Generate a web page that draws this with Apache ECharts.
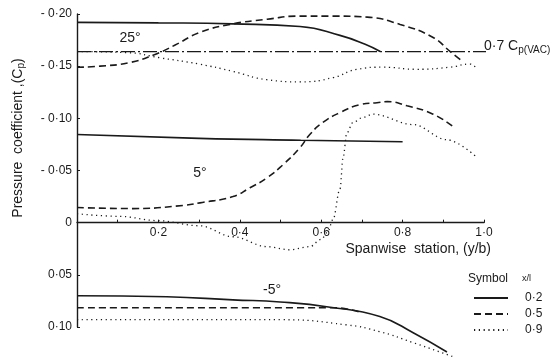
<!DOCTYPE html>
<html>
<head>
<meta charset="utf-8">
<script src="https://cdn.jsdelivr.net/npm/echarts@6/dist/echarts.min.js"></script>
<style>
  html, body {margin: 0; padding: 0; background: #fff;}
  #chart {width: 556px; height: 360px;}
</style>
</head>
<body>
<div id="chart"></div>
<script>
// spanwise station (y/b) vs pressure coefficient
const xTicks = [0.2, 0.4, 0.6, 0.8, 1.0];
const yMin = -0.20, yMax = 0.10;

// 25 deg
const a25_x02 = [[0,-0.192],[0.2,-0.1915],[0.383,-0.1905],[0.548,-0.188],[0.646,-0.1795],[0.708,-0.171],[0.745,-0.164]];
const a25_x05 = [[0,-0.149],[0.057,-0.150],[0.13,-0.1535],[0.19,-0.161],[0.24,-0.170],[0.30,-0.182],[0.376,-0.190],[0.467,-0.195],[0.548,-0.198],[0.629,-0.198],[0.713,-0.197],[0.794,-0.190],[0.875,-0.1775],[0.917,-0.164],[0.948,-0.1545]];
const a25_x09 = [[0,-0.164],[0.123,-0.163],[0.204,-0.158],[0.30,-0.152],[0.383,-0.145],[0.467,-0.137],[0.548,-0.135],[0.629,-0.139],[0.688,-0.147],[0.752,-0.149],[0.835,-0.147],[0.916,-0.149],[0.966,-0.152],[0.983,-0.147]];

// 5 deg
const a5_x02 = [[0,-0.0845],[0.3,-0.0808],[0.55,-0.079],[0.8,-0.0775]];
const a5_x05 = [[0,-0.0145],[0.138,-0.0135],[0.26,-0.0165],[0.302,-0.019],[0.383,-0.025],[0.425,-0.0335],[0.467,-0.043],[0.506,-0.0555],[0.548,-0.072],[0.572,-0.0845],[0.604,-0.096],[0.646,-0.1055],[0.695,-0.113],[0.737,-0.115],[0.762,-0.116],[0.811,-0.112],[0.875,-0.104],[0.924,-0.092]];
const a5_x09 = [[0,-0.0085],[0.106,-0.006],[0.197,-0.002],[0.302,0.003],[0.383,0.0135],[0.467,0.023],[0.523,0.026],[0.572,0.023],[0.6,0.016],[0.616,0.009],[0.629,-0.003],[0.646,-0.032],[0.654,-0.063],[0.663,-0.086],[0.678,-0.096],[0.703,-0.101],[0.727,-0.104],[0.826,-0.094],[0.909,-0.0795],[0.983,-0.0625]];

// -5 deg
const am5_x02 = [[0,0.070],[0.221,0.071],[0.383,0.074],[0.499,0.076],[0.622,0.081],[0.744,0.090],[0.826,0.1055],[0.909,0.124]];
const am5_x05 = [[0,0.0815],[0.55,0.0815],[0.63,0.0815],[0.70,0.0865]];
const am5_x09 = [[0,0.093],[0.499,0.093],[0.663,0.098],[0.744,0.1045],[0.826,0.115],[0.924,0.1285]];

// 0.7 Cp(VAC) reference level
const cpVac = [[0,-0.164],[1.047,-0.164]];

const INK = '#1a1a1a';
const FONT = 'Liberation Sans';
const GRID = {left: 77, right: 72, top: 14, bottom: 33};

const styles = {
  '0·2': {type: 'solid', width: 1.6},
  '0·5': {type: [7, 4], width: 1.6},
  '0·9': {type: [1.2, 3.6], width: 1.3}
};

function curve(name, data, monotone){
  return {
    name, type: 'line', data,
    symbol: 'none', smooth: monotone ? 0.35 : 0.5, smoothMonotone: monotone ? 'x' : null, clip: false,
    lineStyle: Object.assign({color: INK}, styles[name]),
    itemStyle: {color: INK},
    silent: true, animation: false
  };
}

function fmtY(v){
  if (Math.abs(v) < 1e-9) return '0';
  const s = Math.abs(v).toFixed(2).replace('.', '·');
  return v < 0 ? '- ' + s : s;
}

// x axis sits on Cp = 0, so shift it up from the grid bottom
const plotH = 360 - GRID.top - GRID.bottom;
const zeroOffset = -plotH * (yMax - 0) / (yMax - yMin);

const chart = echarts.init(document.getElementById('chart'), null, {renderer: 'canvas'});

chart.setOption({
  backgroundColor: '#fff',
  animation: false,
  textStyle: {fontFamily: FONT, color: INK},
  grid: Object.assign({containLabel: false}, GRID),
  xAxis: {
    type: 'value', min: 0, max: 1, interval: 0.1,
    position: 'bottom', offset: zeroOffset,
    axisLine: {onZero: false, lineStyle: {color: INK, width: 1.4}},
    axisTick: {inside: true, length: 3, lineStyle: {color: INK}},
    axisLabel: {
      margin: 4, fontSize: 12, color: INK, fontFamily: FONT,
      formatter: v => xTicks.some(t => Math.abs(t - v) < 1e-6) ? v.toFixed(1).replace('.', '·') : ''
    },
    splitLine: {show: false},
    name: 'Spanwise  station, (y/b)',
    nameLocation: 'end', nameGap: 7,
    nameTextStyle: {fontSize: 14, color: INK, align: 'right', verticalAlign: 'top', padding: [19, 0, 0, 0], fontFamily: FONT}
  },
  yAxis: {
    type: 'value', min: yMin, max: yMax, interval: 0.05, inverse: true,
    axisLine: {show: true, lineStyle: {color: INK, width: 1.4}},
    axisTick: {show: true, inside: true, length: 3, lineStyle: {color: INK}},
    axisLabel: {margin: 5, fontSize: 12, color: INK, fontFamily: FONT, formatter: fmtY},
    splitLine: {show: false}
  },
  legend: {
    data: ['0·2', '0·5', '0·9'],
    orient: 'vertical', left: 468, top: 287,
    itemWidth: 34, itemHeight: 10, itemGap: 4,
    itemStyle: {opacity: 0},
    textStyle: {fontSize: 12, color: INK, fontFamily: FONT, padding: [0, 0, 0, 12]},
    selectedMode: false
  },
  graphic: [
    {type: 'text', x: 18, y: 138, rotation: Math.PI / 2,
      style: {text: 'Pressure  coefficient ,(C{s|p})', rich: {s: {fontSize: 10, fontFamily: FONT, fill: INK, padding: [6, 0, 0, 0]}},
        font: '14px "Liberation Sans"', fill: INK, align: 'center', verticalAlign: 'middle'}},
    {type: 'text', x: 130, y: 38, style: {text: '25°', font: '14px "Liberation Sans"', fill: INK, align: 'center', verticalAlign: 'middle'}},
    {type: 'text', x: 200, y: 173, style: {text: '5°', font: '14px "Liberation Sans"', fill: INK, align: 'center', verticalAlign: 'middle'}},
    {type: 'text', x: 272, y: 290, style: {text: '-5°', font: '14px "Liberation Sans"', fill: INK, align: 'center', verticalAlign: 'middle'}},
    {type: 'text', x: 484, y: 46,
      style: {text: '0·7 C{s|p(VAC)}', rich: {s: {fontSize: 10, fontFamily: FONT, fill: INK, padding: [8, 0, 0, 0]}},
        font: '14px "Liberation Sans"', fill: INK, align: 'left', verticalAlign: 'middle'}},
    {type: 'text', x: 468, y: 279, style: {text: 'Symbol', font: '12px "Liberation Sans"', fill: INK, align: 'left', verticalAlign: 'middle'}},
    {type: 'text', x: 522, y: 279, style: {text: 'x/l', font: '9px "Liberation Sans"', fill: INK, align: 'left', verticalAlign: 'middle'}}
  ],
  series: [
    curve('0·2', a25_x02), curve('0·5', a25_x05), curve('0·9', a25_x09),
    curve('0·2', a5_x02), curve('0·5', a5_x05), curve('0·9', a5_x09, true),
    curve('0·2', am5_x02), curve('0·5', am5_x05), curve('0·9', am5_x09),
    {
      name: '0·7 Cp(VAC)', type: 'line', data: cpVac, symbol: 'none', clip: false,
      lineStyle: {color: INK, width: 1.3, type: [14, 3, 2, 3]}, silent: true
    }
  ]
});
</script>
</body>
</html>
